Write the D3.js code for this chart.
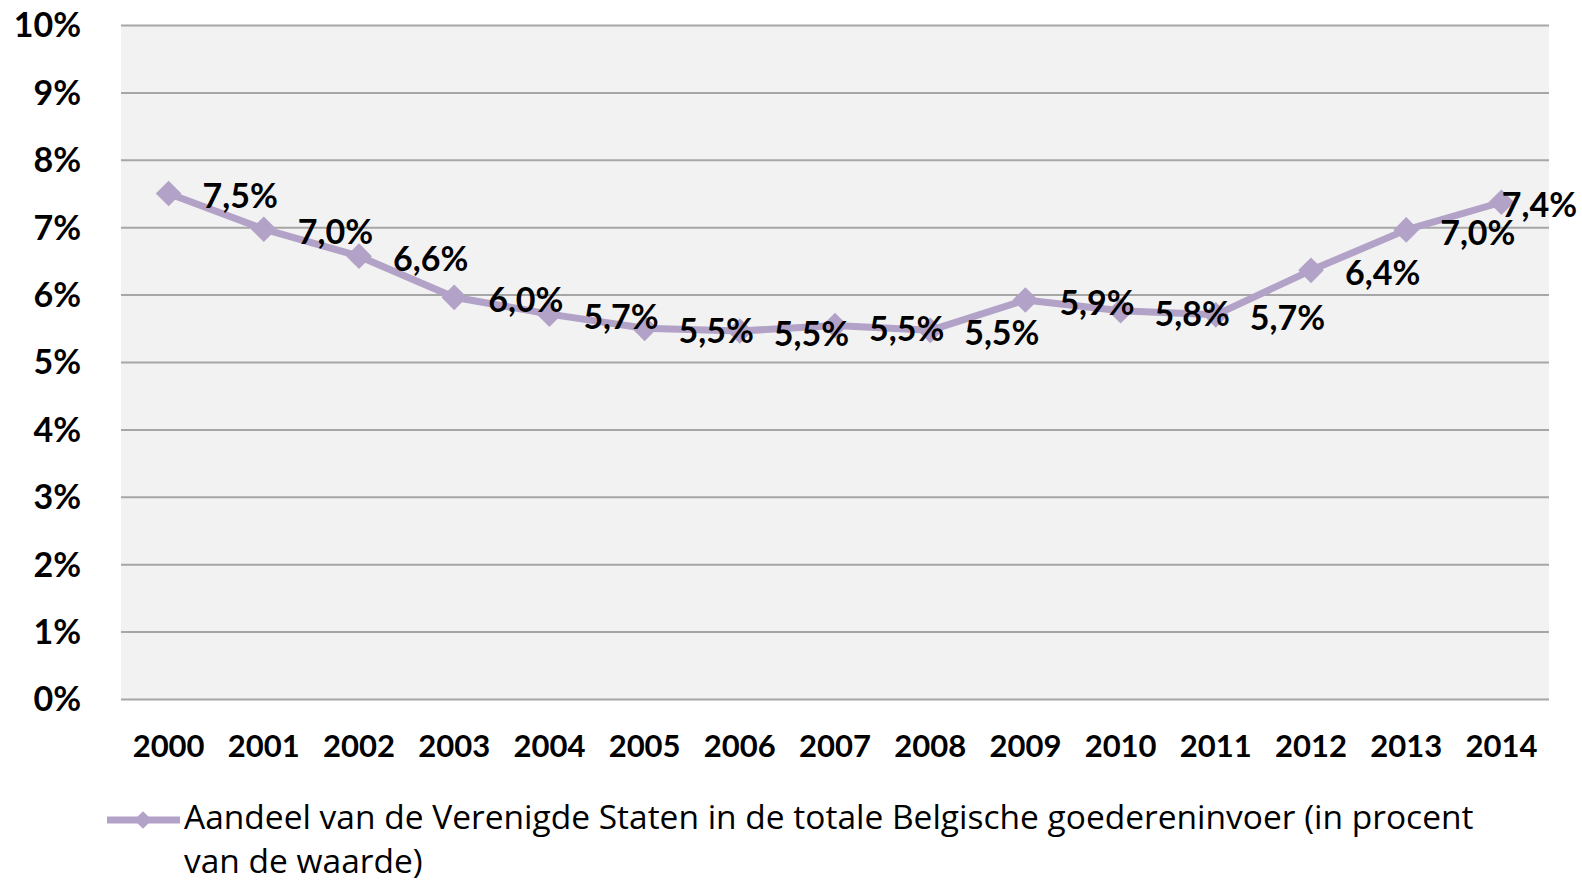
<!DOCTYPE html>
<html><head><meta charset="utf-8">
<script src="https://cdn.jsdelivr.net/npm/d3@7"></script>
<style>body{margin:0;background:#fff;} text{font-family:Lato,"Open Sans",sans-serif;} text.leg{font-family:"Open Sans",sans-serif;}</style>
</head><body>
<svg id="c" width="1582" height="883"></svg>
<script>
const years = ["2000","2001","2002","2003","2004","2005","2006","2007","2008","2009","2010","2011","2012","2013","2014"];
const shares = [7.5,6.97,6.57,5.96,5.71,5.5,5.46,5.54,5.47,5.92,5.76,5.7,6.36,6.96,7.37];
const yTicks = [0,1,2,3,4,5,6,7,8,9,10];
const legendLines = ["Aandeel van de Verenigde Staten in de totale Belgische goedereninvoer (in procent","van de waarde)"];

const W = 1582, H = 883;
const m = {l:121, r:1549, t:25, b:699};
const color = "#b3a2c7";
const svg = d3.select("#c");

const x = d3.scaleBand().domain(years).range([m.l, m.r]);
const y = d3.scaleLinear().domain([0,10]).range([m.b, m.t]);
const cx = d => x(d) + x.bandwidth()/2;

svg.append("rect").attr("x", m.l).attr("y", m.t).attr("width", m.r-m.l).attr("height", m.b-m.t).attr("fill", "#f2f2f2");

// gridlines
const yAxis = d3.axisLeft(y).tickValues(yTicks).tickSize(-(m.r-m.l)).tickFormat(d => d + "%");
const gy = svg.append("g").attr("transform", `translate(${m.l},0)`).call(yAxis);
gy.select(".domain").remove();
gy.selectAll(".tick line").attr("stroke", "#a6a6a6").attr("stroke-width", 2);
gy.selectAll(".tick text").attr("x", -40).attr("font-size", 34).attr("font-weight", "bold").attr("fill", "#000").attr("dy", "0.35em");

// x axis
const xAxis = d3.axisBottom(x).tickSize(0).tickPadding(0);
const gx = svg.append("g").attr("transform", `translate(0,${m.b})`).call(xAxis);
gx.select(".domain").remove();
gx.selectAll(".tick text").attr("y", 58).attr("dy", 0).attr("font-size", 31).attr("font-weight", "bold").attr("fill", "#000");

// line
const line = d3.line().x((d,i) => cx(years[i])).y(d => y(d));
svg.append("path").datum(shares).attr("d", line).attr("fill", "none").attr("stroke", color).attr("stroke-width", 7).attr("stroke-linejoin", "round");

const diamond = d3.symbol().type(d3.symbolDiamond2).size(420);
svg.selectAll(".mk").data(shares).join("path").attr("class","mk")
  .attr("d", diamond).attr("fill", color)
  .attr("transform", (d,i) => `translate(${cx(years[i])},${y(d)})`);

// data labels
const fmt = d => d.toFixed(1).replace(".", ",") + "%";
svg.selectAll(".lbl").data(shares).join("text").attr("class","lbl")
  .attr("font-size", 34).attr("font-weight", "bold").attr("fill", "#000")
  .attr("dy", "0.35em")
  .text(fmt)
  .each(function(d,i){
    const t = d3.select(this);
    const w = this.getComputedTextLength();
    let lx = cx(years[i]) + 34;
    if (lx + w > W - 5) lx = W - 5 - w;
    t.attr("x", lx).attr("y", y(d) + 3);
  });

// legend
const lg = svg.append("g");
lg.append("line").attr("x1", 107).attr("x2", 180).attr("y1", 820).attr("y2", 820).attr("stroke", color).attr("stroke-width", 7);
lg.append("path").attr("d", d3.symbol().type(d3.symbolDiamond2).size(200)).attr("fill", color).attr("transform", "translate(143,820)");
const lt = lg.selectAll("text").data(legendLines).join("text").attr("class","leg")
  .attr("x", 184).attr("y", (d,i) => 829 + i*44)
  .attr("font-size", 31).attr("fill", "#000").text(d => d);
const w0 = lt.node().getComputedTextLength();
lt.attr("font-size", 31 * 1290 / w0);
</script>
</body></html>
